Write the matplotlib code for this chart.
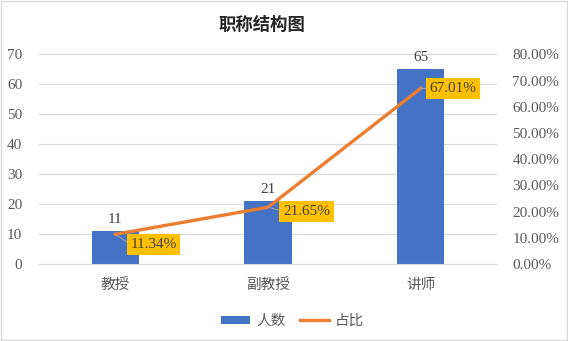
import matplotlib.pyplot as plt
from matplotlib.patches import Rectangle

categories = ["教授", "副教授", "讲师"]
counts = [11, 21, 65]
shares = [0.1134, 0.2165, 0.6701]
share_labels = ["11.34%", "21.65%", "67.01%"]

CJK = ["Noto Sans CJK SC", "DejaVu Sans"]
SERIF = ["Liberation Serif", "DejaVu Serif"]
BLUE = "#4472C4"
ORANGE = "#ED7D31"
GOLD = "#FFC000"
GRID = "#D9D9D9"
TXT = "#595959"

fig = plt.figure(figsize=(5.68, 3.41), dpi=100)
ax = fig.add_axes([0.0687, 0.2258, 0.875 - 0.0687, 0.8407 - 0.2258])
ax2 = ax.twinx()

x = list(range(len(categories)))
ax.bar(x, counts, width=0.31, color=BLUE, zorder=2, label="人数")
ax.set_xlim(-0.5, 2.5)
ax.set_ylim(0, 70)
ax.set_yticks(range(0, 71, 10))
ax.grid(True, axis="y", color=GRID, linewidth=0.8, zorder=0)
ax.set_axisbelow(True)
for sp in ax.spines.values():
    sp.set_visible(False)
for sp in ax2.spines.values():
    sp.set_visible(False)
ax.spines["bottom"].set_visible(True)
ax.spines["bottom"].set_color(GRID)
ax.tick_params(axis="x", length=0, pad=10)
ax.set_xticks(x)
ax.set_xticklabels(categories, fontfamily=CJK, fontsize=10.5, color=TXT)
for t in ax.get_yticklabels():
    t.set_fontfamily(SERIF)
    t.set_fontsize(11)
    t.set_color(TXT)
ax.tick_params(axis="y", length=0, pad=12)

for xi, c in zip(x, counts):
    ax.annotate(str(c), (xi, c), xytext=(0, 5), textcoords="offset pixels",
                ha="center", va="bottom", fontfamily=SERIF, fontsize=11,
                color="#404040")

ax2.plot(x, shares, color=ORANGE, linewidth=2.4, zorder=3, label="占比")
ax2.set_ylim(0, 0.8)
ax2.set_yticks([i / 10 for i in range(9)])
ax2.set_yticklabels([f"{i * 10:.2f}%" for i in range(9)],
                    fontfamily=SERIF, fontsize=11, color=TXT)
ax2.tick_params(length=0, pad=11)

offsets = [(15, -10), (15, -4), (9, 0)]
for xi, s, lab, off in zip(x, shares, share_labels, offsets):
    ax2.annotate(lab, (xi, s), xytext=off, textcoords="offset pixels",
                 ha="left", va="center", fontfamily=SERIF, fontsize=11,
                 color="#404040",
                 bbox=dict(boxstyle="square,pad=0.25", fc=GOLD, ec="none"),
                 arrowprops=dict(arrowstyle="-", color="#A6A6A6", lw=0.7,
                                 shrinkA=0, shrinkB=0, relpos=(0, 0.5)),
                 zorder=4)

fig.text(0.461, 0.927, "职称结构图", ha="center", va="center",
         fontfamily=CJK, fontsize=12.5, fontweight="bold", color="#262626")

h1, l1 = ax.get_legend_handles_labels()
h2, l2 = ax2.get_legend_handles_labels()
fig.legend(h1 + h2, l1 + l2, loc="center", bbox_to_anchor=(0.515, 0.0587),
           ncol=2, frameon=False, prop={"family": CJK, "size": 10.5},
           handlelength=2.0, handleheight=0.5, columnspacing=1.0,
           handletextpad=0.4, labelcolor=TXT)

fig.patches.append(Rectangle((0.002, 0.003), 0.996, 0.994, transform=fig.transFigure,
                             fill=False, edgecolor=GRID, linewidth=1))

fig.savefig("out.png", dpi=100)
